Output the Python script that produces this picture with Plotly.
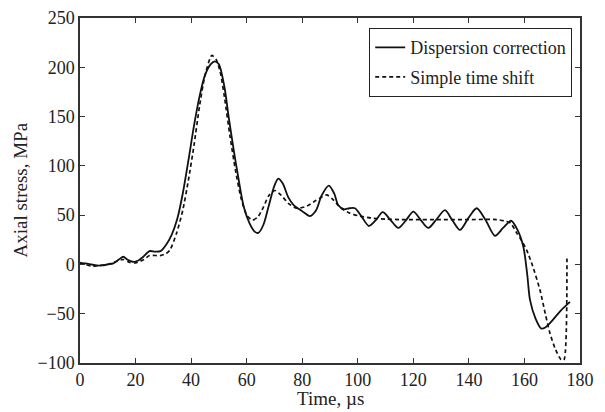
import plotly.graph_objects as go

# Dispersion correction (solid)
t_disp = [0, 2, 4, 6, 8, 10, 12, 14, 15.6, 17, 19, 21, 22.8, 25, 27, 29, 31, 33, 35, 37, 39, 41, 43, 45, 47,
          48.6, 50, 52, 53.5, 55.4, 57, 59, 61, 63, 64.2, 66, 68, 70, 71.4, 73, 75, 77, 80, 82.8, 85, 87, 89.6,
          91.5, 93, 95, 97, 99, 101.5, 104, 106.5, 109, 111.8, 114.6, 117.4, 120, 122.7, 125.4, 128.4, 131.4,
          134, 136.8, 139.8, 142.8, 146, 149.4, 152.3, 155.2, 157.5, 159.6, 161, 162, 164, 166, 167.5, 170,
          173, 176.4]
s_disp = [1, 1, 0, -1, -1, 0, 1, 5, 7.8, 5, 2.7, 4, 7.8, 13.5, 13, 13.5, 20, 30, 46, 72, 105, 140, 170, 192, 203,
          206, 203, 180, 150, 115, 88, 58, 42, 33, 32, 40, 60, 80, 87, 82, 68, 60, 54, 49, 55, 70, 80,
          72, 60, 56, 57, 57, 48, 39, 45, 53, 45, 37, 45, 53.5, 45, 37, 46, 55,
          45, 35, 47, 57, 45, 29, 37, 44.3, 35, 18, -10, -36, -55, -65, -64, -57,
          -47, -38]

# Simple time shift (dashed)
t_shift = [0, 2, 4.8, 7, 10, 13, 15.6, 18, 20, 23, 25, 28.8, 31, 32.4, 34.8, 37, 39, 41, 43, 45, 47.4, 49,
           50.5, 52, 54, 56, 58, 60, 62, 64, 66, 68, 70.2, 72.5, 75, 78, 81.6, 85, 88.8, 91, 94, 97.2, 100,
           105, 110, 115, 120, 130, 140, 150, 153, 155, 157.2, 159, 160.8, 163, 165.6, 167.5, 169.2, 171,
           173, 174.2, 175.3]
s_shift = [2, 0, -2, -1, 0, 3, 5, 2, 1.5, 5, 9, 9, 11, 14.6, 32, 55, 85, 120, 160, 192, 212, 208,
           195, 170, 130, 95, 67, 50, 45, 48, 58, 70, 75, 70, 62, 57, 59, 65, 70.5, 66, 57, 52, 49.5,
           47, 46, 45.5, 45.5, 45.5, 45.5, 45.5, 44, 42, 32, 24, 14.6, -2, -26, -50, -70, -85,
           -96, -97, 6]

x_ticks = [0, 20, 40, 60, 80, 100, 120, 140, 160, 180]
y_ticks = [-100, -50, 0, 50, 100, 150, 200, 250]

font_family = "Liberation Serif, Times New Roman, serif"

fig = go.Figure()
fig.add_trace(go.Scatter(x=t_disp, y=s_disp, mode="lines", name="Dispersion correction",
                         legendgroup="a",
                         line=dict(color="#111111", width=1.8, shape="spline", smoothing=0.8)))
fig.add_trace(go.Scatter(x=t_shift, y=s_shift, mode="lines", name="Simple time shift",
                         legendgroup="b",
                         line=dict(color="#111111", width=1.7, dash="4px,3px", shape="spline", smoothing=0.6)))

axis_common = dict(showline=True, linecolor="#333333", linewidth=1.5, mirror="allticks",
                   ticks="inside", ticklen=5, tickwidth=1.2, tickcolor="#333333",
                   showgrid=False, zeroline=False, automargin=False,
                   tickfont=dict(family=font_family, size=18, color="#222222"))

fig.update_layout(
    width=605, height=412,
    margin=dict(l=80, r=25, t=18, b=49),
    paper_bgcolor="white", plot_bgcolor="white",
    font=dict(family=font_family, color="#222222"),
    xaxis=dict(range=[0, 180], tickvals=x_ticks, **axis_common),
    yaxis=dict(range=[-100, 250], tickvals=y_ticks, **axis_common),
    annotations=[
        dict(text="Time, µs", xref="paper", yref="paper", x=0.5, y=-0.066, xanchor="center", yanchor="top",
             showarrow=False, font=dict(family=font_family, size=19, color="#222222")),
        dict(text="Axial stress, MPa", xref="paper", yref="paper", x=-0.12, y=0.5, xanchor="center",
             yanchor="middle", textangle=-90, showarrow=False,
             font=dict(family=font_family, size=19, color="#222222")),
    ],
    legend=dict(x=0.984, y=0.971, xanchor="right", yanchor="top",
                bgcolor="white", bordercolor="#222222", borderwidth=1.2,
                font=dict(family=font_family, size=18, color="#222222"),
                traceorder="grouped", tracegroupgap=3, itemwidth=30),
    showlegend=True,
)

fig.write_html("out.html", config={"displayModeBar": False},
               post_script="document.body.style.margin='0';document.body.style.overflow='hidden';")
